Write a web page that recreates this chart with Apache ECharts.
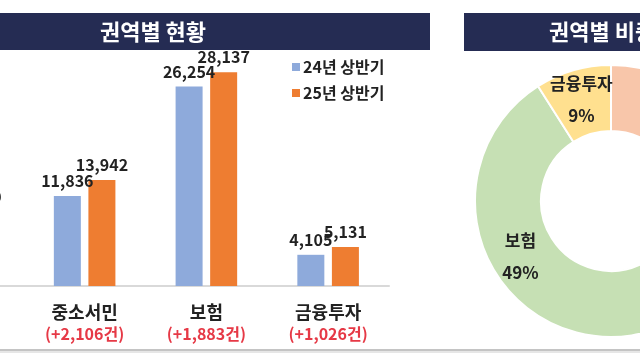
<!DOCTYPE html>
<html><head><meta charset="utf-8">
<script src="https://cdn.jsdelivr.net/npm/echarts@6/dist/echarts.min.js"></script>
<style>html,body{margin:0;padding:0;background:#fff;overflow:hidden;width:640px;height:360px}#c{position:absolute;left:-120px;top:0;width:760px;height:360px}</style>
</head><body><div id="c"></div>
<script>
const categories = ['은행', '중소서민', '보험', '금융투자'];
const changes = ['-1,010', '+2,106', '+1,883', '+1,026'];
const h1_2024 = [10749, 11836, 26254, 4105];
const h1_2025 = [9739, 13942, 28137, 5131];
const seriesNames = ['24년 상반기', '25년 상반기'];
const barTitle = '권역별 현황';
const pieTitle = '권역별 비중';

const OFF = 120; // the canvas starts 120px left of the window (left part is cropped like the reference)
const FONT = '"Noto Sans CJK KR", "Noto Sans", sans-serif';
const pieColors = ['#f8c6aa', '#f4b183', '#c6e0b4', '#ffe08f'];
const fmt = v => v.toLocaleString('en-US');

const chart = echarts.init(document.getElementById('c'));
chart.setOption({
  backgroundColor: '#fff',
  animation: false,
  textStyle: { fontFamily: FONT },
  legend: {
    data: seriesNames,
    orient: 'vertical',
    left: 287 + OFF, top: 54,
    itemWidth: 8, itemHeight: 8, itemGap: 10,
    icon: 'rect',
    textStyle: { fontFamily: FONT, fontWeight: 'bold', fontSize: 16, color: '#222', padding: [0, 0, 0, -2] }
  },
  grid: { left: -98 + OFF, width: 487, top: 58, bottom: 74, containLabel: false },
  xAxis: {
    type: 'category',
    data: categories,
    axisTick: { show: false },
    axisLine: { lineStyle: { color: '#d9d9d9', width: 2 } },
    axisLabel: {
      interval: 0,
      margin: 15,
      formatter: (v, i) => '{n|' + v + '}\n' + (changes[i][0] === '-' ? '{dn|' : '{up|') + '(' + changes[i] + '건)}',
      rich: {
        n: { fontFamily: FONT, fontWeight: 'bold', fontSize: 18, color: '#222', lineHeight: 22 },
        up: { fontFamily: FONT, fontWeight: 'bold', fontSize: 16, color: '#e63946', lineHeight: 22 },
        dn: { fontFamily: FONT, fontWeight: 'bold', fontSize: 16, color: '#2c9ad8', lineHeight: 22 }
      }
    }
  },
  yAxis: { type: 'value', min: 0, max: 30000, show: false, splitLine: { show: false } },
  series: [
    {
      name: seriesNames[0], type: 'bar', data: h1_2024,
      barWidth: 27, barGap: '28%',
      itemStyle: { color: '#8eaadb' },
      label: { show: true, position: 'top', distance: 7, formatter: p => fmt(p.value),
        fontFamily: FONT, fontWeight: 'bold', fontSize: 16, color: '#222' }
    },
    {
      name: seriesNames[1], type: 'bar', data: h1_2025,
      barWidth: 27,
      itemStyle: { color: '#ee7d31' },
      label: { show: true, position: 'top', distance: 7, formatter: p => fmt(p.value),
        fontFamily: FONT, fontWeight: 'bold', fontSize: 16, color: '#222' }
    },
    {
      type: 'pie',
      center: [611 + OFF, 201],
      radius: [70, 136],
      startAngle: 90,
      clockwise: true,
      percentPrecision: 0,
      itemStyle: { borderColor: '#fff', borderWidth: 2 },
      label: {
        show: true, position: 'inside',
        formatter: '{b}\n{d}%',
        fontFamily: FONT, fontWeight: 'bold', fontSize: 17, color: '#222', lineHeight: 32
      },
      labelLine: { show: false },
      data: categories.map((c, i) => ({ name: c, value: h1_2025[i], itemStyle: { color: pieColors[i] } }))
    }
  ],
  graphic: [
    { type: 'rect', shape: { x: OFF - 130, y: 13, width: 560, height: 37 }, style: { fill: '#252c53' }, z: 10 },
    { type: 'text', x: 153 + OFF, y: 32, style: { text: barTitle, fill: '#fff', font: 'bold 22px ' + FONT, textAlign: 'center', textVerticalAlign: 'middle' }, z: 11 },
    { type: 'rect', shape: { x: 464 + OFF, y: 13, width: 190, height: 38 }, style: { fill: '#252c53' }, z: 10 },
    { type: 'text', x: 549 + OFF, y: 32, style: { text: pieTitle, fill: '#fff', font: 'bold 22px ' + FONT, textAlign: 'left', textVerticalAlign: 'middle' }, z: 11 },
    { type: 'rect', shape: { x: 0, y: 349, width: 760, height: 2 }, style: { fill: '#c4c4c4' }, z: 10 },
    { type: 'rect', shape: { x: 0, y: 351, width: 760, height: 2 }, style: { fill: '#e6e6e6' }, z: 10 }
  ]
});
</script></body></html>
